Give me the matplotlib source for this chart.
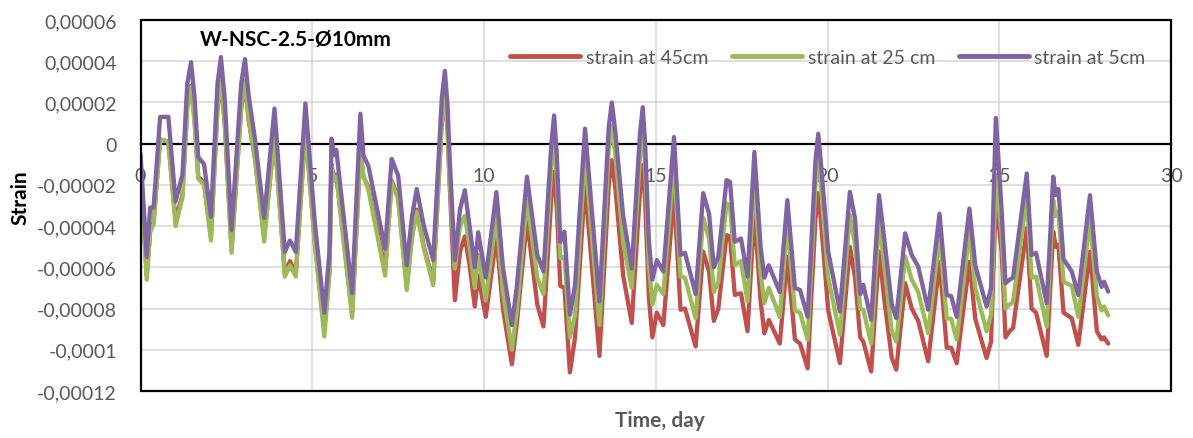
import matplotlib
matplotlib.use("Agg")
import matplotlib.pyplot as plt
from matplotlib.patches import Rectangle
from matplotlib.ticker import FuncFormatter, MultipleLocator

plt.rcParams['font.family'] = ['Lato', 'DejaVu Sans']

# time in days, strains in units of 1e-5
days = [0.00, 0.18, 0.28, 0.38, 0.57, 0.81, 1.02, 1.22, 1.36, 1.47, 1.57, 1.68,
        1.85, 2.05, 2.24, 2.34, 2.45, 2.65, 2.93, 3.04, 3.15, 3.33, 3.60, 3.90, 4.20, 4.35,
        4.52, 4.80, 5.08, 5.35, 5.50, 5.56, 5.63, 5.70, 6.16, 6.40,
        6.49, 6.63, 7.12, 7.31, 7.50, 7.75, 7.90, 8.04, 8.25, 8.52,
        8.77, 8.86, 8.94, 9.00, 9.15, 9.30, 9.44, 9.58, 9.73, 9.83, 10.05, 10.36,
        10.55, 10.81, 10.95, 11.25, 11.55, 11.73, 11.96, 12.04, 12.12, 12.22, 12.34, 12.50,
        12.65, 12.94, 13.36, 13.63, 13.72, 13.82, 14.05, 14.30, 14.54, 14.62, 14.69, 14.80, 14.90, 15.03,
        15.22, 15.53, 15.72, 15.85, 16.16, 16.38, 16.55, 16.69, 16.82, 17.06,
        17.16, 17.30, 17.48, 17.67, 17.87, 18.05, 18.16, 18.29, 18.61, 18.83,
        19.05, 19.20, 19.42, 19.65, 19.73, 19.81, 20.02, 20.36, 20.65, 20.80, 20.95, 21.04,
        21.27, 21.50, 21.67, 21.87, 22.00, 22.26, 22.45, 22.64, 22.93, 23.26,
        23.47, 23.60, 23.76, 24.13, 24.30, 24.63, 24.76, 24.90, 25.07, 25.18, 25.30,
        25.40, 25.80, 25.94, 26.07, 26.38, 26.57, 26.64, 26.72, 26.87, 27.11,
        27.30, 27.64, 27.84, 27.98, 28.05, 28.17]

strain_5cm = [-0.5, -5.5, -3.1, -3.1, 1.3, 1.3, -2.8, -1.5, 2.9, 3.95, 2.3, -0.65,
              -1.0, -3.55, 2.9, 4.2, 2.2, -4.2, 2.9, 4.1, 2.3, 0.24, -3.6, 1.7, -5.25, -4.7,
              -5.25, 1.95, -3.95, -8.2, -5.25, 0.24, -0.56, -0.3, -7.25, 1.45,
              -0.58, -1.06, -5.1, -0.74, -1.55, -5.9, -3.56, -2.2, -4.0, -5.65,
              2.2, 3.53, 1.8, -0.74, -5.65, -3.2, -2.26, -4.0, -6.0, -4.3, -6.5, -2.35,
              -6.0, -8.8, -7.0, -1.6, -5.4, -6.2, 0.0, 1.37, -0.6, -4.76, -4.27, -8.3,
              -6.85, 0.73, -7.66, 0.8, 2.0, 0.6, -3.5, -6.06, 0.5, 1.77, 0.0, -4.77, -6.6, -5.65,
              -6.2, 0.32, -5.4, -5.3, -7.3, -2.4, -3.4, -6.0, -5.5, -1.77,
              -1.85, -4.76, -4.6, -6.45, -0.4, -5.0, -6.5, -5.9, -7.2, -2.74,
              -7.0, -7.1, -8.4, -0.8, 0.48, -1.0, -5.24, -8.15, -2.34, -3.63, -7.3, -6.85,
              -8.55, -2.5, -4.9, -7.8, -8.47, -4.35, -5.4, -5.97, -8.06, -3.4,
              -7.34, -7.4, -8.4, -3.15, -5.9, -7.9, -7.0, 1.25, -3.3, -6.77, -6.6,
              -6.5, -1.45, -5.4, -5.3, -7.74, -1.6, -2.5, -2.2, -5.6, -6.2,
              -7.34, -2.5, -6.2, -6.95, -6.7, -7.18]

strain_25cm = [-1.2, -6.6, -4.3, -3.9, 0.2, 0.1, -4.0, -2.6, 1.7, 2.74, 1.1, -1.7,
               -2.0, -4.7, 1.8, 3.15, 1.1, -5.3, 1.8, 3.06, 1.2, -0.7, -4.75, 0.48, -6.45, -5.9,
               -6.45, 0.8, -5.0, -9.35, -6.3, -1.05, -1.8, -1.6, -8.45, -0.4,
               -1.6, -2.2, -6.4, -1.87, -2.7, -7.1, -4.6, -3.3, -5.1, -6.87,
               1.1, 2.4, 0.7, -1.8, -6.05, -4.0, -3.5, -5.0, -7.0, -5.4, -7.6, -3.5,
               -7.2, -10.0, -8.15, -2.74, -6.5, -7.3, -1.1, 0.24, -1.7, -5.56, -5.5, -9.4,
               -8.3, -0.48, -8.8, -0.3, 0.89, -0.5, -4.8, -7.0, -0.6, 0.65, -1.1, -5.9, -7.8, -6.85,
               -7.3, -0.8, -6.45, -6.5, -8.47, -3.6, -4.6, -7.2, -6.7, -2.9,
               -3.0, -5.9, -5.7, -7.66, -1.7, -6.2, -7.74, -7.0, -8.4, -3.87,
               -8.1, -8.2, -9.5, -1.9, -0.65, -2.1, -6.5, -9.27, -3.47, -4.9, -8.0, -8.06,
               -9.7, -3.7, -6.2, -9.1, -9.6, -5.48, -6.6, -7.2, -9.2, -4.43,
               -8.47, -8.5, -9.5, -4.27, -7.0, -9.1, -8.3, -1.6, -4.4, -8.0, -7.8,
               -7.7, -2.5, -6.5, -6.45, -8.87, -2.74, -3.5, -3.3, -6.7, -6.9,
               -8.4, -3.7, -7.4, -8.1, -7.9, -8.33]

strain_45cm = [-1.1, -6.4, -4.2, -3.8, 0.2, 0.1, -3.7, -2.5, 1.8, 2.8, 1.2, -1.6,
               -1.9, -4.5, 1.7, 3.0, 1.0, -5.1, 1.7, 2.9, 1.1, -0.7, -4.5, 0.4, -6.3, -5.7,
               -6.3, 0.7, -4.9, -9.0, -6.2, -1.0, -1.7, -1.5, -8.2, -0.4,
               -1.6, -2.1, -6.1, -1.8, -2.6, -6.9, -4.5, -3.2, -5.0, -6.7,
               1.0, 2.3, 0.6, -2.0, -7.6, -5.26, -4.5, -5.9, -7.9, -6.4, -8.4, -4.5,
               -8.0, -10.7, -8.8, -3.7, -7.8, -8.87, -2.6, -1.37, -3.2, -6.9, -7.0, -11.1,
               -9.4, -2.0, -10.3, -2.0, -0.8, -2.1, -6.4, -8.7, -2.3, -1.05, -2.8, -7.5, -9.4, -8.2,
               -8.8, -2.4, -8.06, -8.0, -9.84, -5.24, -6.2, -8.6, -8.0, -4.44,
               -4.5, -7.34, -7.26, -9.1, -3.3, -7.6, -9.2, -8.55, -9.7, -5.5,
               -9.5, -9.7, -10.9, -3.6, -2.4, -3.8, -8.1, -10.65, -5.0, -6.5, -9.4, -9.6,
               -11.05, -5.24, -7.8, -10.4, -10.97, -6.77, -8.0, -8.6, -10.56, -5.73,
               -9.9, -9.9, -10.65, -5.73, -8.5, -10.4, -9.6, -2.6, -5.24, -9.4, -9.1,
               -8.95, -4.1, -8.0, -8.2, -10.3, -4.27, -5.0, -4.9, -8.2, -8.47,
               -9.76, -5.24, -9.1, -9.5, -9.4, -9.7]

assert len(days) == len(strain_5cm) == len(strain_25cm) == len(strain_45cm)

series_names = ["strain at 45cm", "strain at 25 cm", "strain at 5cm"]
series_colors = ["#C0504D", "#9BBB59", "#8064A2"]

fig = plt.figure(figsize=(11.93, 4.39), dpi=100)
ax = fig.add_axes([0.1178, 0.1071, 0.8638, 0.8451])

for vals, name, col in zip([strain_45cm, strain_25cm, strain_5cm], series_names, series_colors):
    ax.plot(days, [v * 1e-5 for v in vals], color=col, lw=3.1, label=name,
            solid_joinstyle='round', solid_capstyle='round')

ax.set_xlim(0, 30)
ax.set_ylim(-0.00012, 0.00006)
ax.xaxis.set_major_locator(MultipleLocator(5))
ax.yaxis.set_major_locator(MultipleLocator(0.00002))


def comma_fmt(v, pos):
    s = f"{round(v, 6):.5f}".rstrip('0').rstrip('.')
    if s in ("-0", "0"):
        return "0"
    return s.replace('.', ',')


ax.yaxis.set_major_formatter(FuncFormatter(comma_fmt))
ax.grid(True, color="#D9D9D9", lw=1.2)
ax.set_axisbelow(True)

# x axis crosses at 0, labels sit under the zero line
ax.spines['bottom'].set_position(('data', 0))
ax.spines['bottom'].set_linewidth(1.6)
ax.spines['bottom'].set_zorder(1.5)
for s in ['left', 'top', 'right']:
    ax.spines[s].set_visible(False)
ax.add_patch(Rectangle((0, 0), 1, 1, transform=ax.transAxes, fill=False,
                       ec='black', lw=1.6, zorder=5, clip_on=False))

ax.tick_params(axis='both', length=0, labelsize=14, labelcolor="#595959")
ax.tick_params(axis='x', pad=17)
ax.tick_params(axis='y', pad=17)

ax.text(0.0577, 0.949, "W-NSC-2.5-Ø10mm", transform=ax.transAxes,
        fontsize=15, fontweight='bold', va='center', ha='left')

fig.text(20 / 1193, 1 - 198 / 439, "Strain", rotation=90, fontsize=15,
         fontweight='bold', ha='center', va='center')
fig.text(660 / 1193, 1 - 421 / 439, "Time, day", fontsize=15,
         fontweight='bold', color="#595959", ha='center', va='center')

leg = ax.legend(loc='center', bbox_to_anchor=(828 / 1193, 1 - 58 / 439),
                bbox_transform=fig.transFigure, ncol=3, frameon=False,
                fontsize=14, handlelength=3.6, columnspacing=1.2,
                handletextpad=0.3)
for t in leg.get_texts():
    t.set_color("#595959")
for h in leg.get_lines():
    h.set_linewidth(3.5)

fig.savefig("out.png", dpi=100)
